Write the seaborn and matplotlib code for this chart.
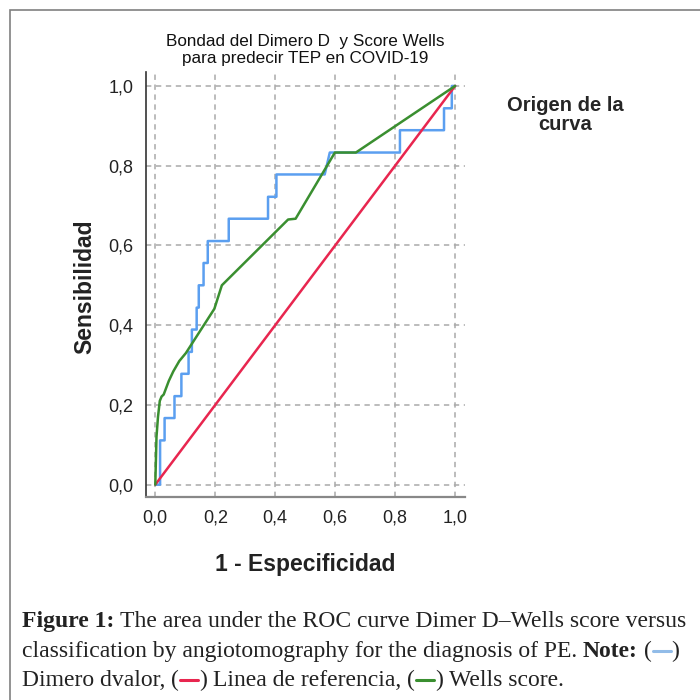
import numpy as np
import pandas as pd
import seaborn as sns
import matplotlib
matplotlib.use("Agg")
import matplotlib.pyplot as plt
from matplotlib.patches import Rectangle
from matplotlib.lines import Line2D

# ROC curve data
# Dimero dvalor (step curve)
fpr_dimero = [0, 0.016, 0.016, 0.031, 0.031, 0.064, 0.064, 0.087, 0.087, 0.111, 0.111,
              0.122, 0.122, 0.138, 0.138, 0.145, 0.145, 0.161, 0.161, 0.175, 0.175,
              0.245, 0.245, 0.376, 0.376, 0.404, 0.404, 0.565, 0.582, 0.816, 0.816,
              0.963, 0.963, 0.989, 0.989, 1.0]
tpr_dimero = [0, 0, 0.111, 0.111, 0.167, 0.167, 0.222, 0.222, 0.278, 0.278, 0.333,
              0.333, 0.389, 0.389, 0.444, 0.444, 0.5, 0.5, 0.556, 0.556, 0.611,
              0.611, 0.667, 0.667, 0.722, 0.722, 0.778, 0.778, 0.833, 0.833, 0.889,
              0.889, 0.944, 0.944, 1.0, 1.0]
# Wells score
fpr_wells = [0, 0.002, 0.004, 0.009, 0.015, 0.021, 0.028, 0.045, 0.060, 0.080, 0.102,
             0.197, 0.222, 0.443, 0.468, 0.599, 0.669, 1.0]
tpr_wells = [0, 0.06, 0.12, 0.17, 0.21, 0.221, 0.226, 0.26, 0.284, 0.31, 0.33,
             0.441, 0.5, 0.665, 0.667, 0.833, 0.833, 1.0]
# Linea de referencia
fpr_ref = [0, 1]
tpr_ref = [0, 1]

curve_names = ["Dimero dvalor", "Linea de referencia", "Wells score"]
curve_colors = ["#5b9ff0", "#e8264f", "#3a8f30"]

tick_vals = [0.0, 0.2, 0.4, 0.6, 0.8, 1.0]
tick_labels = ["0,0", "0,2", "0,4", "0,6", "0,8", "1,0"]

title_text = "Bondad del Dimero D  y Score Wells\npara predecir TEP en COVID-19"
legend_title = "Origen de la\ncurva"
xlabel = "1 - Especificidad"
ylabel = "Sensibilidad"

# build long-form table
df = pd.concat([
    pd.DataFrame({"x": fpr_dimero, "y": tpr_dimero, "curva": curve_names[0]}),
    pd.DataFrame({"x": fpr_ref, "y": tpr_ref, "curva": curve_names[1]}),
    pd.DataFrame({"x": fpr_wells, "y": tpr_wells, "curva": curve_names[2]}),
], ignore_index=True)

sns.set_theme(style="white")
plt.rcParams['font.family'] = ['Liberation Sans', 'DejaVu Sans']

fig = plt.figure(figsize=(7, 7), dpi=100)
ax = fig.add_axes([146/700, 1-497/700, (465-146)/700, (497-72)/700])

sns.lineplot(data=df, x="x", y="y", hue="curva", hue_order=curve_names,
             palette=dict(zip(curve_names, curve_colors)), sort=False,
             estimator=None, legend=False, linewidth=1.8, ax=ax)

ax.set_xlim(-0.031, 1.033)
ax.set_ylim(-0.031, 1.035)
ax.set_xticks(tick_vals)
ax.set_yticks(tick_vals)
ax.set_xticklabels(tick_labels, fontsize=13)
ax.set_yticklabels(tick_labels, fontsize=13)
ax.tick_params(length=0, pad=9, colors="#222222")
ax.grid(True, color="#aaaaaa", linestyle=(0, (3.5, 3)), linewidth=1.1)
ax.set_xlabel("")
ax.set_ylabel("")
for s in ["top", "right"]:
    ax.spines[s].set_visible(False)
ax.spines["left"].set_color("#333333")
ax.spines["bottom"].set_color("#888888")
ax.spines["left"].set_linewidth(1.2)
ax.spines["bottom"].set_linewidth(1.6)

fig.text(305/700, 1-50/700, title_text, ha="center", va="center", fontsize=12.3,
         linespacing=1.1, color="#111111")
fig.text(565/700, 1-115/700, legend_title, ha="center", va="center", fontsize=14.5,
         fontweight="bold", linespacing=1.05)
fig.text(85/700, 1-287/700, ylabel, ha="center", va="center", rotation=90,
         fontsize=16.5, fontweight="bold", color="#222222")
fig.text(305/700, 1-565/700, xlabel, ha="center", va="center",
         fontsize=16.5, fontweight="bold", color="#222222")

# frame around the figure (open to the right and bottom)
fig.patches.append(Rectangle((10/700, -0.1), 1.2, 1.1 - 10/700, transform=fig.transFigure,
                             fill=False, edgecolor="#808080", linewidth=1.2))

# caption with mixed styles
renderer = fig.canvas.get_renderer()
cap_size = 17
cap_font = ['Liberation Serif', 'DejaVu Serif']


def text_width(s, weight="normal"):
    t = fig.text(0, 0, s, fontsize=cap_size, family=cap_font, fontweight=weight)
    w = t.get_window_extent(renderer).width
    t.remove()
    return w


space_w = text_width("a a") - text_width("aa")


def rich_line(x_px, y_px, pieces):
    x = x_px
    for s, weight, color, gap in pieces:
        if gap:
            x += space_w
        if s == "LINE":
            # small coloured line sample inside the parentheses
            w = 20
            fig.add_artist(Line2D([(x + 1)/700, (x + w - 1)/700],
                                  [1-(y_px - 6)/700, 1-(y_px - 6)/700],
                                  transform=fig.transFigure, color=color, linewidth=2.2))
            x += w
            continue
        t = fig.text(x/700, 1-y_px/700, s, fontsize=cap_size, family=cap_font,
                     fontweight=weight, color=color, va="baseline", ha="left")
        x += t.get_window_extent(renderer).width


ink = "#222222"
rich_line(22, 627, [("Figure 1:", "bold", ink, False),
                    ("The area under the ROC curve Dimer D\u2013Wells score versus", "normal", ink, True)])
rich_line(22, 657, [("classification by angiotomography for the diagnosis of PE.", "normal", ink, False),
                    ("Note:", "bold", ink, True),
                    ("(", "normal", ink, True),
                    ("LINE", "normal", "#92bce8", False),
                    (")", "normal", ink, False)])
rich_line(22, 686, [("Dimero dvalor,", "normal", ink, False),
                    ("(", "normal", ink, True),
                    ("LINE", "normal", curve_colors[1], False),
                    (")", "normal", ink, False),
                    ("Linea de referencia,", "normal", ink, True),
                    ("(", "normal", ink, True),
                    ("LINE", "normal", curve_colors[2], False),
                    (")", "normal", ink, False),
                    ("Wells score.", "normal", ink, True)])

fig.savefig("out.png", dpi=100)
